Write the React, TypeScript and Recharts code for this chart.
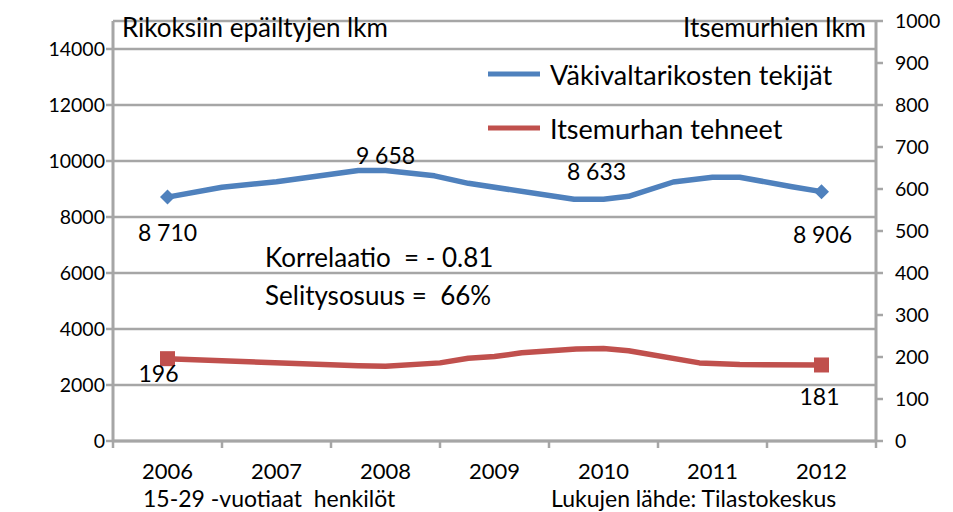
import React from 'react';
import { LineChart, Line, XAxis, YAxis, CartesianGrid, Legend } from 'recharts';

// ---- data ----
const years = [2006, 2007, 2008, 2009, 2010, 2011, 2012];
const bandEdges = [2005.5, 2006.5, 2007.5, 2008.5, 2009.5, 2010.5, 2011.5, 2012.5];
const leftTicks = [0, 2000, 4000, 6000, 8000, 10000, 12000, 14000];
const rightTicks = [0, 100, 200, 300, 400, 500, 600, 700, 800, 900, 1000];

const violentX = [2006, 2006.5, 2007, 2007.75, 2008, 2008.45, 2008.76, 2009.73, 2010, 2010.23, 2010.64, 2011, 2011.25, 2011.73, 2012];
const violentY = [8710, 9060, 9260, 9658, 9658, 9470, 9203, 8633, 8633, 8740, 9250, 9420, 9420, 9080, 8906];
const violentLabelled = [2006, 2008, 2010, 2012];

const suicideX = [2006, 2007.75, 2008, 2008.5, 2008.76, 2009, 2009.25, 2009.75, 2010, 2010.23, 2010.88, 2011.25, 2012];
const suicideY = [196, 179, 178, 186, 197, 201, 210, 219, 220, 215, 186, 182, 181];
const suicideLabelled = [2006, 2012];

const violentName = 'Väkivaltarikosten tekijät';
const suicideName = 'Itsemurhan tehneet';

const violentData = violentX.map((x, i) => ({ x, v: violentY[i] }));
const suicideData = suicideX.map((x, i) => ({ x, v: suicideY[i] }));

// ---- layout / style ----
const W = 945;
const H = 504;
const LEFT_W = 105;
const RIGHT_W = 77;
const HALF_BAND = (W - LEFT_W - RIGHT_W) / years.length / 2;

const BLUE = '#4F81BD';
const RED = '#C0504D';
const GRAY = '#A6A6A6';
const FONT = 'Lato, "Open Sans", sans-serif';

const violentLabelOffset: Record<number, [number, number]> = {
  2006: [0, 35],
  2008: [0, -16],
  2010: [-7, -28],
  2012: [1, 42],
};
const suicideLabelOffset: Record<number, [number, number]> = {
  2006: [-9, 14],
  2012: [-2, 31],
};

const fmt = (v: number) =>
  v >= 1000 ? `${Math.floor(v / 1000)} ${String(v % 1000).padStart(3, '0')}` : String(v);

function makeDot(kind: 'diamond' | 'square', color: string, labelled: number[], offsets: Record<number, [number, number]>, lastX: number, firstX: number) {
  return (props: any) => {
    const { cx, cy, payload, index } = props;
    const xv = payload.x;
    const isEnd = xv === firstX || xv === lastX;
    const showLabel = labelled.includes(xv);
    if (!isEnd && !showLabel) return <g key={`d${index}`} />;
    const off = offsets[xv] || [0, 0];
    return (
      <g key={`d${index}`}>
        {isEnd && kind === 'diamond' && (
          <path d={`M${cx},${cy - 7.5} L${cx + 7.5},${cy} L${cx},${cy + 7.5} L${cx - 7.5},${cy} Z`} fill={color} />
        )}
        {isEnd && kind === 'square' && (
          <rect x={cx - 7.5} y={cy - 7.5} width={15} height={15} fill={color} />
        )}
        {showLabel && (
          <text
            x={cx + off[0]}
            y={cy + off[1]}
            textAnchor="middle"
            dominantBaseline="central"
            fontSize={23}
            fontFamily={FONT}
            fill="#000"
          >
            {fmt(payload.v)}
          </text>
        )}
      </g>
    );
  };
}

const XTick = (props: any) => {
  const { x, y, payload } = props;
  const v = payload.value;
  const isLast = v === bandEdges[bandEdges.length - 1];
  return (
    <g>
      {!isLast && (
        <text
          x={x + HALF_BAND}
          y={y + 20}
          textAnchor="middle"
          dominantBaseline="central"
          fontSize={22}
          fontFamily={FONT}
          fill="#000"
        >
          {v + 0.5}
        </text>
      )}
    </g>
  );
};

const LegendContent = () => (
  <div style={{ fontFamily: FONT, fontSize: 27, color: '#000' }}>
    {[
      { name: violentName, color: BLUE },
      { name: suicideName, color: RED },
    ].map((it) => (
      <div key={it.name} style={{ display: 'flex', alignItems: 'center', height: 54 }}>
        <svg width={52} height={6} style={{ marginRight: 10 }}>
          <line x1={0} y1={3} x2={52} y2={3} stroke={it.color} strokeWidth={5} />
        </svg>
        <span>{it.name}</span>
      </div>
    ))}
  </div>
);

export default function App() {
  const tickStyle = { fontSize: 19.5, fontFamily: FONT, fill: '#000' };
  return (
    <div style={{ position: 'relative', width: W, height: H }}>
      <LineChart width={W} height={H} margin={{ top: 13, right: 0, bottom: 23, left: 0 }}>
        <CartesianGrid yAxisId="left" xAxisId="edge" vertical={false} stroke={GRAY} strokeWidth={2.5} />
        <XAxis
          xAxisId="edge"
          dataKey="x"
          type="number"
          domain={[2005.5, 2012.5]}
          ticks={bandEdges}
          interval={0}
          tick={<XTick />}
          tickSize={7}
          height={48}
          axisLine={{ stroke: GRAY, strokeWidth: 3 }}
          tickLine={{ stroke: GRAY, strokeWidth: 2.5 }}
        />
        <YAxis
          yAxisId="left"
          orientation="left"
          width={LEFT_W}
          domain={[0, 15000]}
          ticks={leftTicks}
          interval={0}
          tickSize={7}
          tickMargin={1}
          tick={tickStyle}
          axisLine={{ stroke: GRAY, strokeWidth: 3 }}
          tickLine={{ stroke: GRAY, strokeWidth: 2.5 }}
        />
        <YAxis
          yAxisId="right"
          orientation="right"
          width={RIGHT_W}
          domain={[0, 1000]}
          ticks={rightTicks}
          interval={0}
          tickSize={7}
          tickMargin={12}
          tick={tickStyle}
          axisLine={{ stroke: GRAY, strokeWidth: 3 }}
          tickLine={{ stroke: GRAY, strokeWidth: 2.5 }}
        />
        <Legend
          layout="vertical"
          align="center"
          verticalAlign="middle"
          content={<LegendContent />}
          wrapperStyle={{ position: 'absolute', left: 480, top: 39, width: 440, margin: 0 }}
        />
        <Line
          data={violentData}
          xAxisId="edge"
          yAxisId="left"
          dataKey="v"
          name={violentName}
          type="linear"
          stroke={BLUE}
          strokeWidth={5.5}
          strokeLinejoin="round"
          dot={makeDot('diamond', BLUE, violentLabelled, violentLabelOffset, 2012, 2006)}
          activeDot={false}
          isAnimationActive={false}
        />
        <Line
          data={suicideData}
          xAxisId="edge"
          yAxisId="right"
          dataKey="v"
          name={suicideName}
          type="linear"
          stroke={RED}
          strokeWidth={5.5}
          strokeLinejoin="round"
          dot={makeDot('square', RED, suicideLabelled, suicideLabelOffset, 2012, 2006)}
          activeDot={false}
          isAnimationActive={false}
        />
      </LineChart>
      <svg
        width={W}
        height={H}
        style={{ position: 'absolute', left: 0, top: 0, pointerEvents: 'none' }}
        fontFamily={FONT}
        fill="#000"
      >
        <text x={114} y={29} fontSize={26}>Rikoksiin epäiltyjen lkm</text>
        <text x={858} y={29} fontSize={26} textAnchor="end">Itsemurhien lkm</text>
        <text x={257} y={259} fontSize={26} xmlSpace="preserve">Korrelaatio  = - 0.81</text>
        <text x={257} y={297} fontSize={26} xmlSpace="preserve">Selitysosuus =  66%</text>
        <text x={135} y={499} fontSize={23} xmlSpace="preserve">15-29 -vuotiaat  henkilöt</text>
        <text x={543} y={499} fontSize={23}>Lukujen lähde: Tilastokeskus</text>
      </svg>
    </div>
  );
}
